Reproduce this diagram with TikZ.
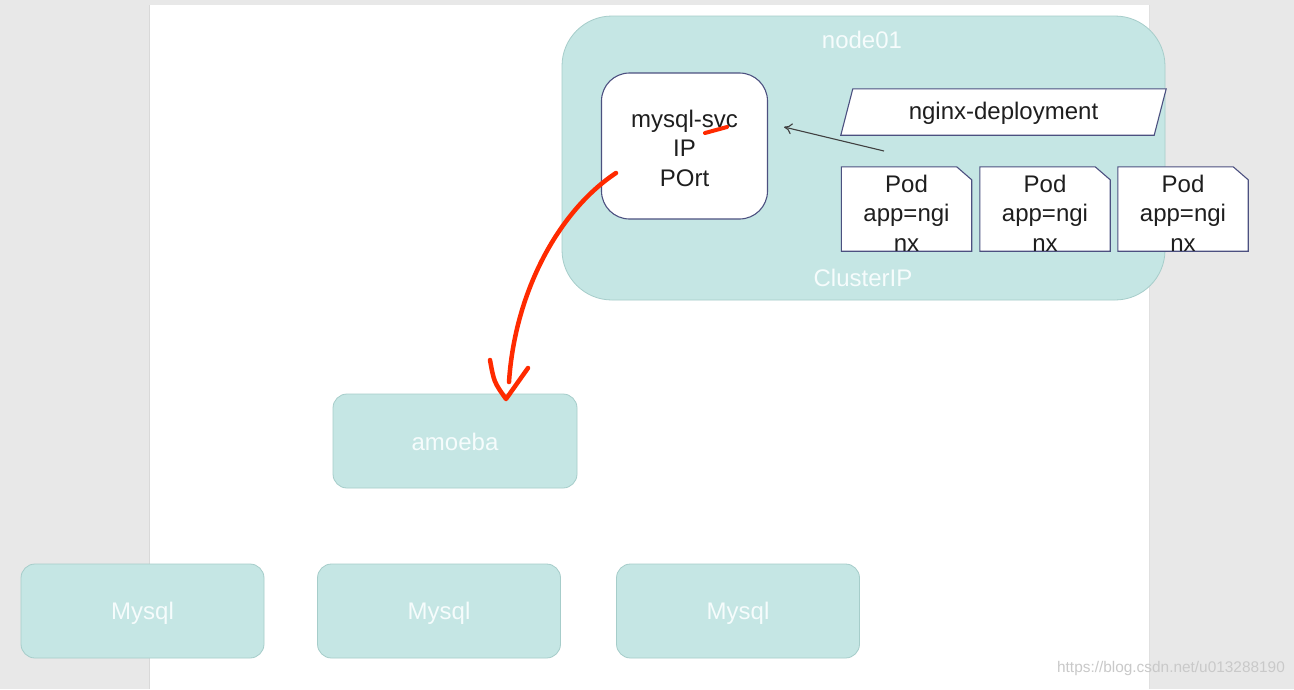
\documentclass[tikz,border=0pt]{standalone}
\usepackage{fontspec}
\setmainfont{Liberation Sans}
\usetikzlibrary{arrows.meta,calc}
\definecolor{bggray}{HTML}{E8E8E8}
\definecolor{tealfill}{HTML}{C5E6E4}
\definecolor{tealline}{HTML}{A6CDCA}
\definecolor{boxline}{HTML}{4C5080}
\definecolor{darktext}{HTML}{1E1E1E}
\definecolor{softwhite}{HTML}{F6FCFC}
\definecolor{penred}{HTML}{FF2A00}
\definecolor{wmark}{HTML}{C9C9C9}
\tikzset{
  tealbox/.style={draw=tealline, fill=tealfill, line width=0.8pt},
  wlabel/.style={text=softwhite, font=\fontsize{24}{28}\selectfont, inner sep=0pt},
  dlabel/.style={text=darktext, font=\fontsize{24}{29.5}\selectfont, align=center, inner sep=0pt},
  podline/.style={draw=boxline, fill=white, line width=1.1pt},
  podbase/.style={minimum width=130pt, minimum height=84pt, inner sep=0pt},
  redpen/.style={draw=penred, line width=4.5pt, line cap=round, line join=round},
}
\begin{document}
\begin{tikzpicture}[x=1pt,y=-1pt]
\useasboundingbox (0,0) rectangle (1294,689);
% background and page
\fill[bggray] (0,0) rectangle (1294,689);
\fill[white] (149,5) rectangle (1149,689);
\draw[black!15, line width=1pt] (149,5) -- (149,689);
\draw[black!12, line width=1pt] (1149,5) -- (1149,689);

% node01 cluster
\node[tealbox, rounded corners=50pt, minimum width=603pt, minimum height=284pt] (node01) at (863.5,158) {};
\node[wlabel] (n01lab) at (862,40) {node01};
\node[wlabel] (cliplab) at (863,278) {ClusterIP};

% mysql-svc
\node[draw=boxline, fill=white, line width=1.1pt, rounded corners=28pt,
      minimum width=166pt, minimum height=146pt] (svc) at (684.5,146) {};
\node[dlabel] (svctext) at (684.5,148) {mysql-svc\\IP\\POrt};

% nginx-deployment parallelogram
\node[minimum width=313pt, minimum height=46pt, inner sep=0pt] (dep) at (1003.5,112) {};
\draw[podline] ([xshift=-6pt]dep.south west) -- ([xshift=6pt]dep.north west)
  -- ([xshift=6pt]dep.north east) -- ([xshift=-6pt]dep.south east) -- cycle;
\node[dlabel] (deptext) at (1003.5,113) {nginx-deployment};

% pods
\foreach \i/\cx in {1/906.5, 2/1045, 3/1183}{
  \node[podbase] (pod\i) at (\cx,209) {};
  \draw[podline] (pod\i.south west) -- (pod\i.north west)
    -- ([xshift=-15pt]pod\i.north east) -- ([yshift=-13pt]pod\i.north east)
    -- (pod\i.south east) -- cycle;
  \node[dlabel] (podtext\i) at (\cx,213) {Pod\\app=ngi\\nx};
  \draw[draw=boxline, line width=1.1pt] (pod\i.south west) -- (pod\i.south east);
}

% arrow from deployment to service
\coordinate (arrS) at (884,151);
\coordinate (arrE) at (784,127);
\draw[-{To[length=8pt,width=11pt]}, draw=black!75, line width=1.1pt] (arrS) -- (arrE);

% amoeba
\node[tealbox, rounded corners=14pt, minimum width=244pt, minimum height=94pt] (amoeba) at (455,441) {};
\node[wlabel] (amolab) at (455,442) {amoeba};

% mysql boxes
\foreach \i/\cx in {1/142.5, 2/439, 3/738}{
  \node[tealbox, rounded corners=14pt, minimum width=243pt, minimum height=94pt] (mysql\i) at (\cx,611) {};
  \node[wlabel] (mysqllab\i) at (\cx,613) {Mysql};
}

% red hand-drawn annotations
\coordinate (redS) at (616,173);
\coordinate (redE) at (509,382);
\draw[redpen] (redS) .. controls (560,210) and (515,290) .. (redE);
\coordinate (headL) at (490,360);
\coordinate (headT) at (506,399);
\coordinate (headR) at (528,368);
\draw[redpen] (headL) .. controls (494,382) .. (headT) -- (headR);
\coordinate (dashA) at (705,133);
\coordinate (dashB) at (727,127);
\draw[redpen, line width=4pt] (dashA) -- (dashB);

% watermark
\node[text=wmark, font=\fontsize{15.4}{18}\selectfont, inner sep=0pt] (wm) at (1171,669) {https://blog.csdn.net/u013288190};
\end{tikzpicture}
\end{document}
